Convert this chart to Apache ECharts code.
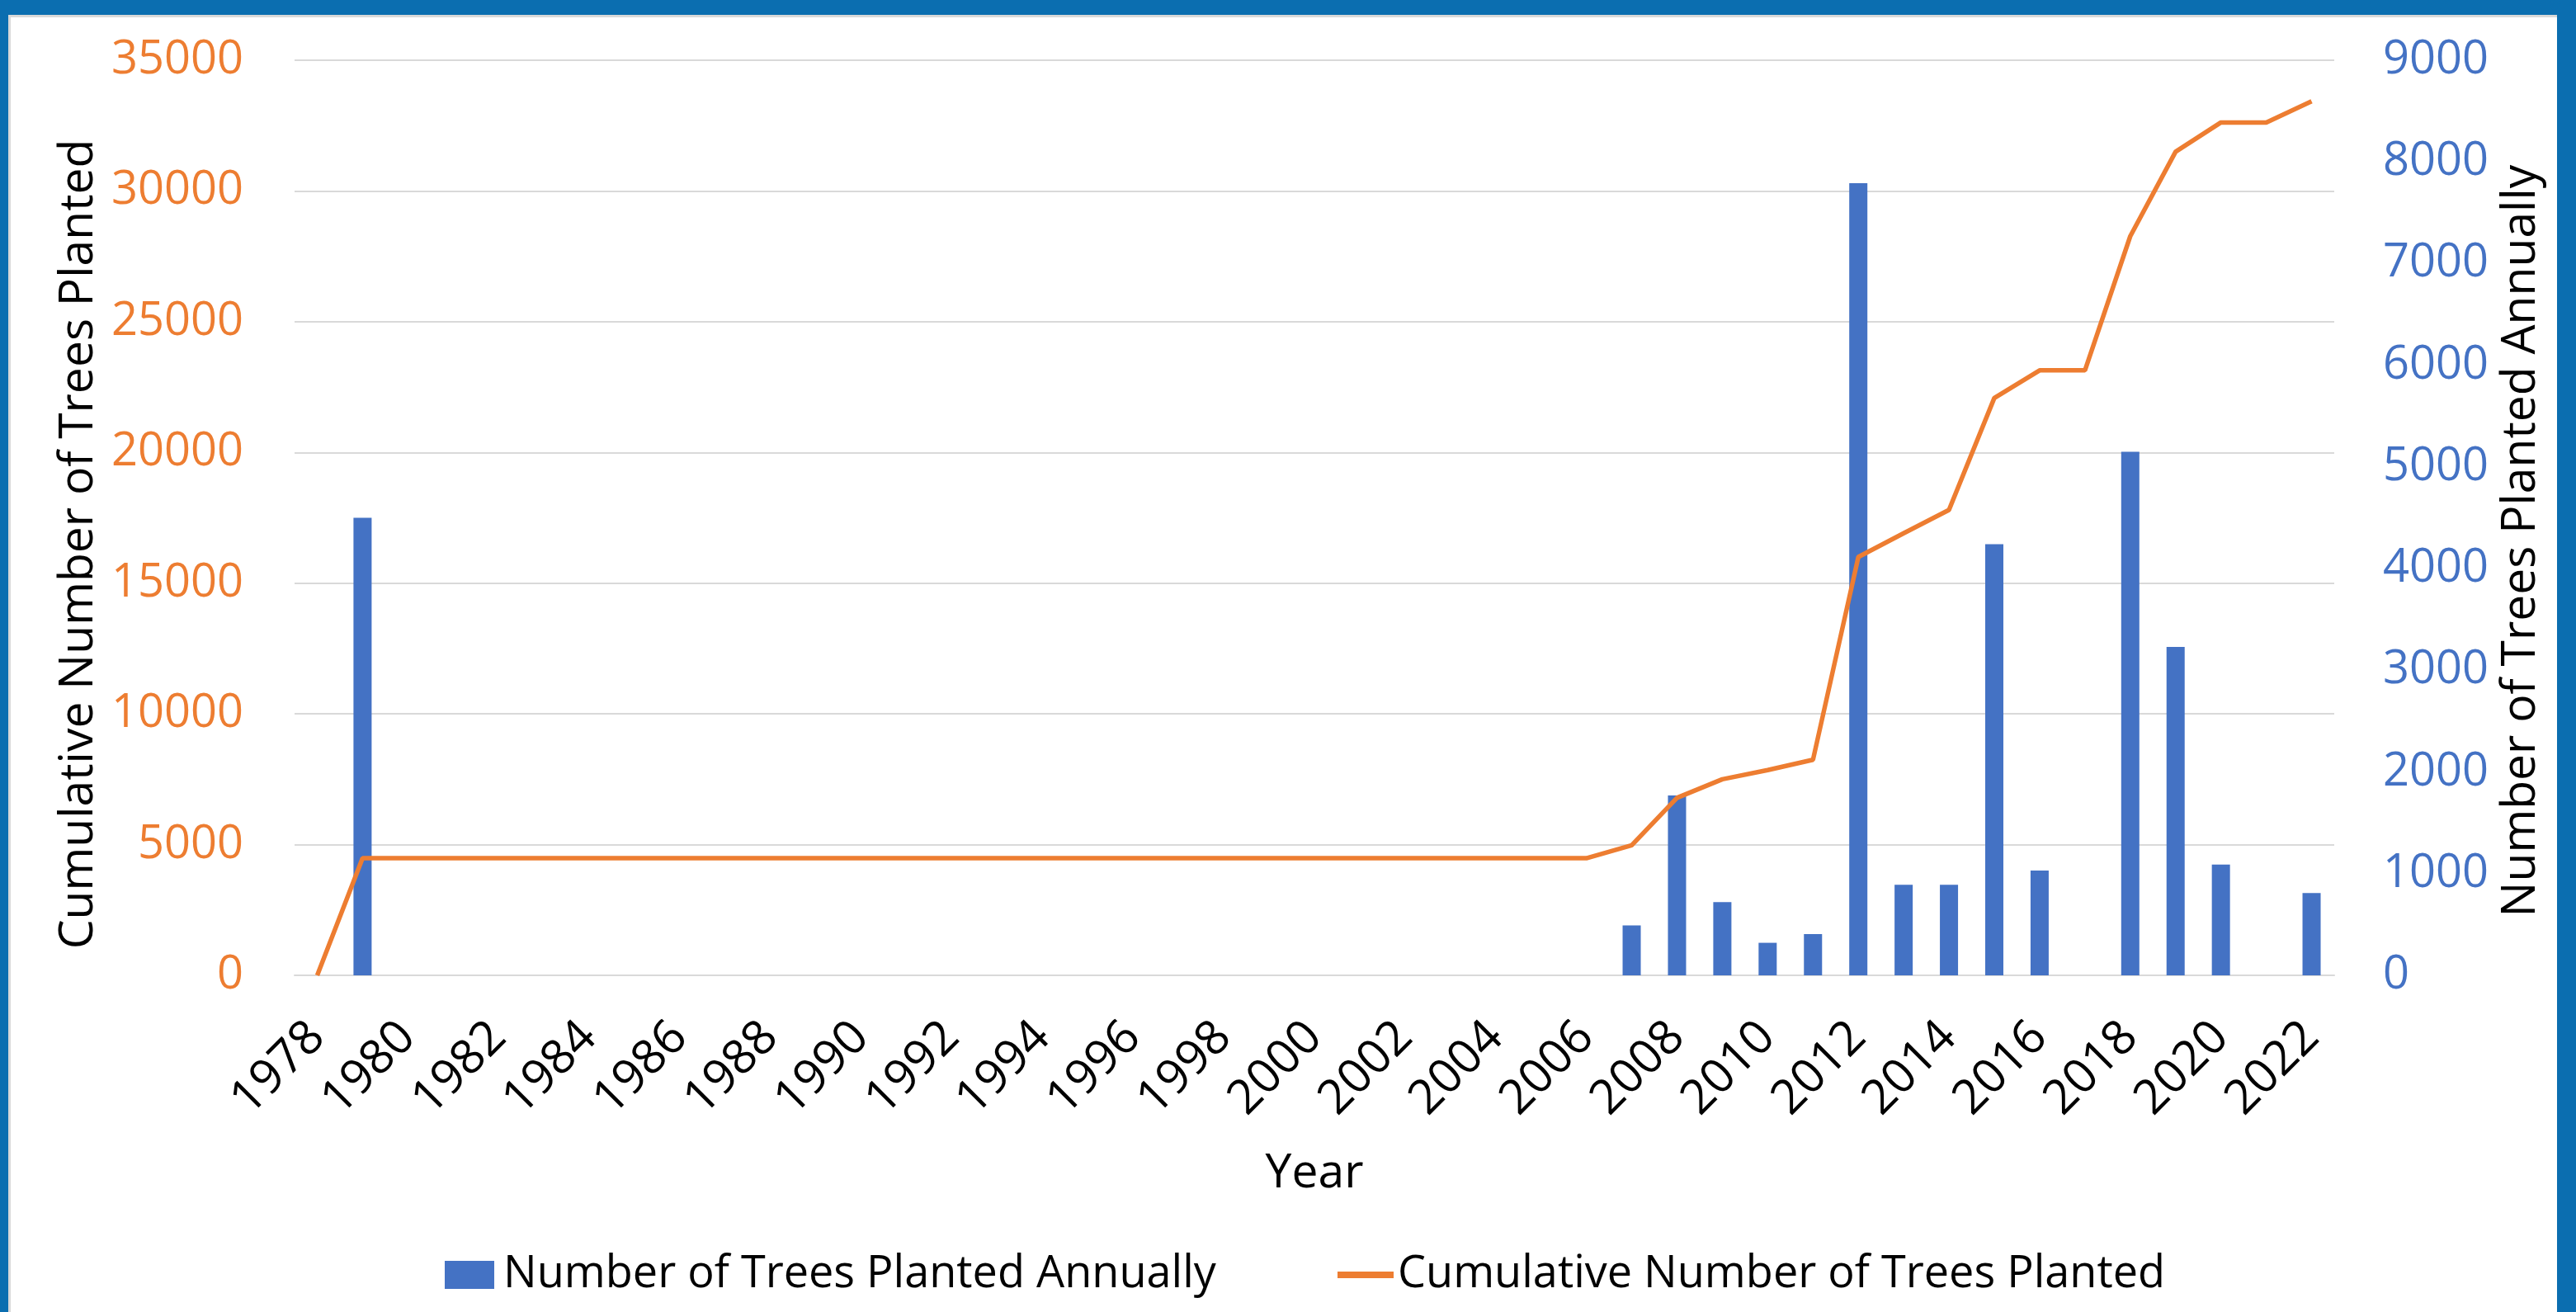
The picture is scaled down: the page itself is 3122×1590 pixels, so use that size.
<!DOCTYPE html>
<html>
<head>
<meta charset="utf-8">
<script src="https://cdn.jsdelivr.net/npm/echarts@6/dist/echarts.min.js"></script>
<style>
  html, body { margin: 0; padding: 0; }
  body { width: 3122px; height: 1590px; background: #0B6EB0; position: relative; overflow: hidden; }
  #paper { position: absolute; left: 10px; top: 18px; width: 3089px; height: 1572px; background: #ffffff;
           box-sizing: border-box; border-left: 3px solid #D9D9D9; border-top: 3px solid #D9D9D9; }
  #chart { position: absolute; left: 0; top: 0; width: 3122px; height: 1590px; }
</style>
</head>
<body>
<div id="paper"></div>
<div id="chart"></div>
<script>
const years = ['1978','1979','1980','1981','1982','1983','1984','1985','1986','1987','1988','1989','1990','1991','1992','1993','1994','1995','1996','1997','1998','1999','2000','2001','2002','2003','2004','2005','2006','2007','2008','2009','2010','2011','2012','2013','2014','2015','2016','2017','2018','2019','2020','2021','2022'];

const annualTrees = [0, 4500,
  0, 0, 0, 0, 0, 0, 0, 0, 0, 0,
  0, 0, 0, 0, 0, 0, 0, 0, 0, 0,
  0, 0, 0, 0, 0, 0, 0,
  490, 1770, 720, 320, 405, 7790, 890, 890, 4240, 1030, 0, 5150, 3230, 1090, 0, 810];

const cumulativeTrees = [0, 4480,
  4480, 4480, 4480, 4480, 4480, 4480, 4480, 4480, 4480, 4480,
  4480, 4480, 4480, 4480, 4480, 4480, 4480, 4480, 4480, 4480,
  4480, 4480, 4480, 4480, 4480, 4480, 4480,
  4975, 6790, 7500, 7850, 8245, 16000, 16910, 17800, 22080, 23140, 23140, 28270, 31500, 32620, 32620, 33430];

const leftTicks = { min: 0, max: 35000, interval: 5000 };
const rightTicks = { min: 0, max: 9000, interval: 1000 };

const nameAnnual = 'Number of Trees Planted Annually';
const nameCumulative = 'Cumulative Number of Trees Planted';

const FONT = 'Open Sans';
const plain = v => String(v);
const chart = echarts.init(document.getElementById('chart'), null, { renderer: 'canvas' });

chart.setOption({
  animation: false,
  textStyle: { fontFamily: FONT },
  grid: { left: 357, right: 293, top: 73, bottom: 408, containLabel: false },
  legend: [
    {
      data: [nameAnnual], left: 534, top: 1508, itemWidth: 60, itemHeight: 34,
      icon: 'rect',
      textStyle: { fontFamily: FONT, fontSize: 54, color: '#000', lineHeight: 64, padding: [0, 0, 0, 6] }
    },
    {
      data: [nameCumulative], left: 1616, top: 1508, itemWidth: 68, itemHeight: 8,
      icon: 'rect',
      textStyle: { fontFamily: FONT, fontSize: 54, color: '#000', lineHeight: 64 }
    }
  ],
  xAxis: {
    type: 'category',
    data: years,
    boundaryGap: true,
    name: 'Year',
    nameLocation: 'middle',
    nameGap: 212,
    nameTextStyle: { fontFamily: FONT, fontSize: 57, color: '#000' },
    axisLine: { show: true, lineStyle: { color: '#D9D9D9', width: 2 } },
    axisTick: { show: false },
    axisLabel: { interval: 1, rotate: 45, margin: 66, fontFamily: FONT, fontSize: 58, color: '#000' },
    splitLine: { show: false }
  },
  yAxis: [
    {
      type: 'value', position: 'left',
      min: leftTicks.min, max: leftTicks.max, interval: leftTicks.interval,
      name: nameCumulative, nameLocation: 'middle', nameRotate: 90, nameGap: 205,
      nameTextStyle: { fontFamily: FONT, fontSize: 57, color: '#000', padding: [0, 64, 0, 0] },
      axisLine: { show: false }, axisTick: { show: false },
      axisLabel: { margin: 62, fontFamily: FONT, fontSize: 56, color: '#ED7D31', formatter: plain },
      splitLine: { show: true, lineStyle: { color: '#D9D9D9', width: 2 } }
    },
    {
      type: 'value', position: 'right',
      min: rightTicks.min, max: rightTicks.max, interval: rightTicks.interval,
      name: nameAnnual, nameLocation: 'middle', nameRotate: 90, nameGap: 185,
      nameTextStyle: { fontFamily: FONT, fontSize: 57, color: '#000', padding: [0, 56, 0, 0] },
      axisLine: { show: false }, axisTick: { show: false },
      axisLabel: { margin: 59, fontFamily: FONT, fontSize: 56, color: '#4472C4', formatter: plain },
      splitLine: { show: false }
    }
  ],
  series: [
    {
      name: nameAnnual, type: 'bar', yAxisIndex: 1, data: annualTrees,
      barWidth: 22, itemStyle: { color: '#4472C4' }, z: 2
    },
    {
      name: nameCumulative, type: 'line', yAxisIndex: 0, data: cumulativeTrees,
      symbol: 'none', lineStyle: { color: '#ED7D31', width: 5.5 }, itemStyle: { color: '#ED7D31' }, z: 3
    }
  ]
});
</script>
</body>
</html>
